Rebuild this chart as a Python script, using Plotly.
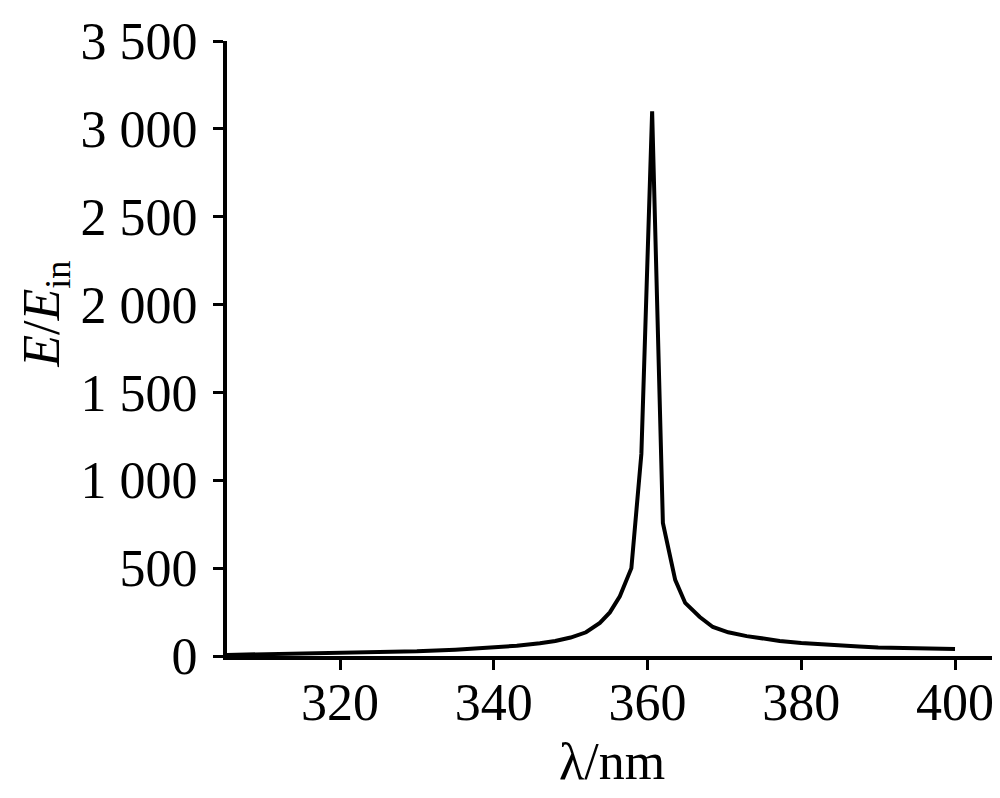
import plotly.graph_objects as go

wavelength_nm = [305.0, 310, 315, 320, 325, 330, 335, 340, 343, 346, 348, 350, 352,
                 353.8, 355.1, 356.4, 357.9, 359.2, 360.6, 362.0, 363.6, 364.9, 366.8,
                 368.5, 370.5, 372.9, 375, 377.2, 380, 382.5, 385, 387.5, 390, 395, 400]
enhancement = [6, 10, 13, 17, 21, 27, 36, 48, 58, 72, 85, 105, 135,
               188, 248, 340, 500, 1150, 3100, 757, 433, 302, 222,
               165, 135, 113, 98, 86, 74, 66, 60, 54, 48, 43, 40]

x_ticks = [320, 340, 360, 380, 400]
y_ticks = [0, 500, 1000, 1500, 2000, 2500, 3000, 3500]
y_tick_text = ["0", "500", "1 000", "1 500", "2 000", "2 500", "3 000", "3 500"]

FONT = "Liberation Serif, Times New Roman, serif"
FS = 52

fig = go.Figure()
fig.add_trace(go.Scatter(x=wavelength_nm, y=enhancement, mode="lines",
                         line=dict(color="black", width=4), showlegend=False))

fig.update_layout(
    width=992, height=790,
    margin=dict(l=219, r=4, t=33, b=142),
    paper_bgcolor="white", plot_bgcolor="white",
    font=dict(family=FONT, size=FS, color="black"),
    xaxis=dict(range=[305.3, 405.33], tickvals=x_ticks, ticks="outside", ticklen=10,
               tickwidth=3, tickcolor="black", showline=True, linecolor="black",
               linewidth=4, showgrid=False, zeroline=False,
               ticklabelstandoff=-12,
               tickfont=dict(family=FONT, size=FS, color="black")),
    yaxis=dict(range=[0, 3500], tickvals=y_ticks, ticktext=y_tick_text, ticks="outside",
               ticklen=10, tickwidth=3, tickcolor="black", showline=True,
               linecolor="black", linewidth=4, showgrid=False, zeroline=False,
               ticklabelstandoff=5,
               tickfont=dict(family=FONT, size=FS, color="black")),
    annotations=[
        dict(text="λ/nm", xref="paper", yref="paper", x=0.5, y=-0.172,
             xanchor="center", yanchor="middle", showarrow=False,
             font=dict(family=FONT, size=FS, color="black")),
        dict(text="<i>E</i>/<i>E</i><sub>in</sub>", xref="paper", yref="paper",
             x=-0.237, y=0.556, xanchor="center", yanchor="middle", showarrow=False,
             textangle=-90, font=dict(family=FONT, size=FS, color="black")),
    ],
)

fig.write_html("out.html")
